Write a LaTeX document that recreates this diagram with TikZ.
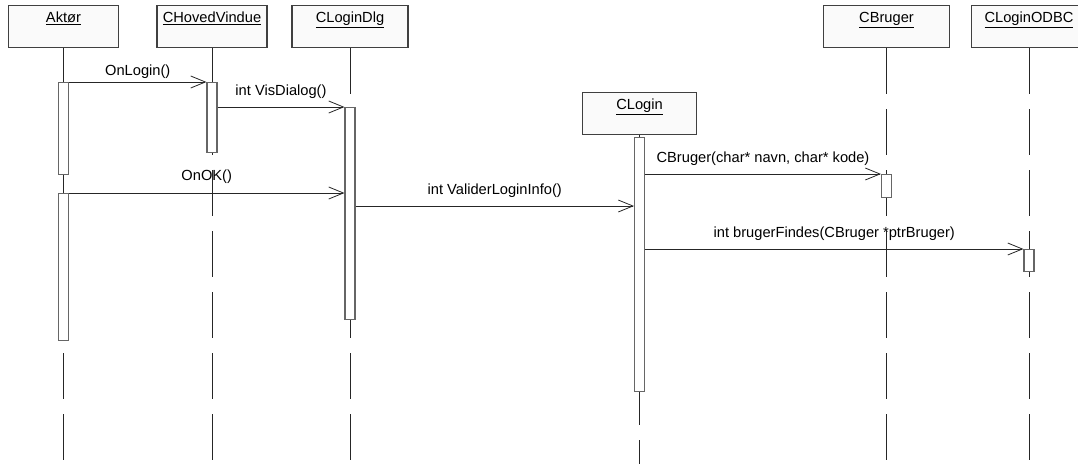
\documentclass[tikz,border=0pt]{standalone}
\usepackage{fontspec}
\setmainfont{Liberation Sans}
\usetikzlibrary{arrows.meta}

\begin{document}
\begin{tikzpicture}[x=0.75pt, y=-0.75pt,
      every node/.style = {font=\fontsize{11}{13}\selectfont},
      object/.style = {draw=black!75, fill=black!2, line width=0.9pt,
        anchor=north, inner xsep=0pt, inner ysep=3pt, minimum width=#1,
        text height=9.75pt, text depth=15.75pt},
      lifeline/.style = {draw=black!85, line width=0.75pt,
        dash pattern=on 34.5pt off 11.25pt},
      activation/.style = {draw=black!60, fill=white, line width=0.8pt,
        anchor=north, inner sep=0pt, minimum width=7.5pt, minimum height=#1},
      msg/.style = {-{Straight Barb[length=11pt,width=9pt,line width=0.6pt]},
        draw=black!85, line width=0.7pt},
      msglabel/.style = {inner sep=0pt, above=#1}]
  \useasboundingbox (0,0) rectangle (1078,464);
  \coordinate (bottom) at (0,464);

  \node[object=82.5pt] (aktor) at (63.5,5) {\underline{Aktør}};
  \node[object=82.5pt] (hoved) at (212,5) {\underline{CHovedVindue}};
  \node[object=87pt] (dlg) at (350,5) {\underline{CLoginDlg}};
  \node[object=86pt] (login) at (639.5,92) {\underline{CLogin}};
  \node[object=95pt] (bruger) at (886.5,5) {\underline{CBruger}};
  \node[object=86pt] (odbc) at (1029,5) {\underline{CLoginODBC}};

  \foreach \obj in {aktor,hoved,dlg,login,bruger,odbc}
    \draw[lifeline] (\obj.south) -- (\obj.south |- bottom);

  \node[activation=69pt] (aktA) at (aktor.south |- 0,82) {};
  \node[activation=110.25pt] (aktB) at (aktor.south |- 0,193) {};
  \node[activation=52.5pt] (hovA) at (hoved.south |- 0,82) {};
  \node[activation=159pt] (dlgA) at (dlg.south |- 0,107) {};
  \node[activation=190.5pt] (loginA) at (login.south |- 0,137) {};
  \node[activation=17.25pt] (brA) at (bruger.south |- 0,174) {};
  \node[activation=16.5pt] (odA) at (odbc.south |- 0,249) {};

  \coordinate (valY) at (0,206);
  \draw[msg] (aktA.north east) -- (hovA.north west)
    node[midway, msglabel=2.5pt] {OnLogin()};
  \draw[msg] (hovA.east |- dlgA.north) -- (dlgA.north west)
    node[midway, msglabel=6pt] {int VisDialog()};
  \draw[msg] (aktB.north east) -- (dlgA.west |- aktB.north)
    node[midway, msglabel=7pt] {OnOK()};
  \draw[msg] (dlgA.east |- valY) -- (loginA.west |- valY)
    node[midway, msglabel=6pt] {int ValiderLoginInfo()};
  \draw[msg] (loginA.east |- brA.north) -- (brA.north west)
    node[midway, msglabel=6pt] {CBruger(char* navn, char* kode)};
  \draw[msg] (loginA.east |- odA.north) -- (odA.north west)
    node[midway, msglabel=6pt] {int brugerFindes(CBruger *ptrBruger)};
\end{tikzpicture}
\end{document}
